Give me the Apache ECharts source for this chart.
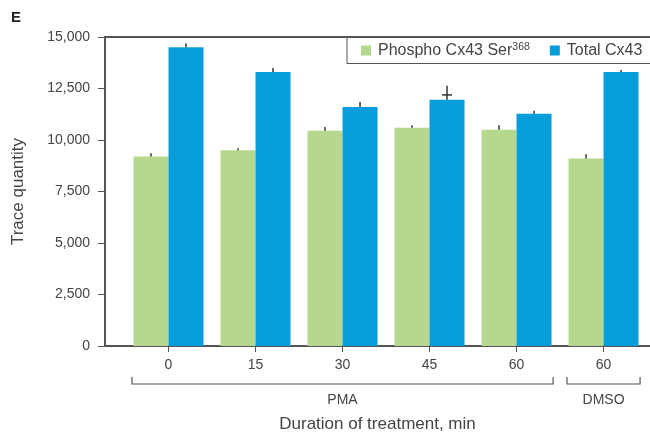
<!DOCTYPE html>
<html>
<head>
<meta charset="utf-8">
<script src="https://cdn.jsdelivr.net/npm/echarts@6/dist/echarts.min.js"></script>
<style>
  html, body { margin: 0; padding: 0; background: #fff; }
  #container { width: 650px; height: 438px; }
</style>
</head>
<body>
<div id="container"></div>
<script>
// data
var tickLabels = ['0', '15', '30', '45', '60', '60'];
var phospho = [9200, 9500, 10450, 10600, 10500, 9100];
var total = [14500, 13300, 11600, 11950, 11280, 13300];
var phosphoErr = [160, 100, 180, 110, 210, 210];
var totalErr = [190, 190, 240, 680, 145, 100];
var groups = [
    { name: 'PMA', from: 0, to: 4 },
    { name: 'DMSO', from: 5, to: 5 }
];
var seriesNames = ['Phospho Cx43 Ser368', 'Total Cx43'];

var textColor = '#444';
var axisColor = '#555';
var barW = 35;

function toPoints(arr) {
    return arr.map(function (v, i) { return [i, v]; });
}

function errPoints(vals, errs) {
    return vals.map(function (v, i) { return [i, v, v + errs[i]]; });
}

// error whiskers, shifted left/right onto their bar
function errRenderer(side) {
    return function (params, api) {
        var top = api.coord([api.value(0), api.value(1)]);
        var end = api.coord([api.value(0), api.value(2)]);
        var x = top[0] + side * barW / 2;
        var children = [{
            type: 'line',
            shape: { x1: x, y1: top[1], x2: x, y2: end[1] },
            style: { stroke: '#333', lineWidth: 1.5 }
        }];
        // the big whisker has a crossbar
        if (top[1] - end[1] > 8) {
            var cy = top[1] - (top[1] - end[1]) * 0.35;
            children.push({
                type: 'line',
                shape: { x1: x - 5, y1: cy, x2: x + 5, y2: cy },
                style: { stroke: '#333', lineWidth: 1.5 }
            });
        }
        return { type: 'group', children: children };
    };
}

var dom = document.getElementById('container');
var myChart = echarts.init(dom, null, { renderer: 'canvas' });

var option = {
    animation: false,
    color: ['#b5d88e', '#079ddb'],
    textStyle: { fontFamily: 'Liberation Sans, Arial, sans-serif' },
    title: {
        text: 'E',
        left: 6,
        top: 5,
        textStyle: { fontSize: 15, fontWeight: 'bold', color: '#222' }
    },
    legend: {
        data: seriesNames,
        orient: 'horizontal',
        left: 347,
        top: 37,
        width: 360,
        padding: [5, 40, 5, 14],
        itemWidth: 10,
        itemHeight: 10,
        itemGap: 20,
        icon: 'rect',
        borderColor: axisColor,
        borderWidth: 1,
        formatter: function (name) {
            return name.replace('Ser368', 'Ser{sup|368}');
        },
        textStyle: {
            fontSize: 16,
            color: textColor,
            padding: [0, 0, 0, 2],
            rich: {
                sup: { fontSize: 10.5, verticalAlign: 'top', color: textColor, padding: [0, 0, 6, 0] }
            }
        }
    },
    grid: { left: 105, right: 0, top: 37, bottom: 90 },
    xAxis: [
        {
            type: 'value',
            min: -0.73,
            max: 5.534,
            splitLine: { show: false },
            axisLine: { onZero: false, lineStyle: { color: axisColor, width: 2 } },
            axisTick: {
                customValues: [0, 1, 2, 3, 4, 5],
                length: 6,
                lineStyle: { color: axisColor, width: 1 }
            },
            axisLabel: {
                customValues: [0, 1, 2, 3, 4, 5],
                margin: 12,
                fontSize: 14,
                color: textColor,
                formatter: function (v) { return tickLabels[Math.round(v)]; }
            },
            name: 'Duration of treatment, min',
            nameLocation: 'middle',
            nameGap: 70,
            nameTextStyle: { fontSize: 17, color: textColor }
        },
        {
            type: 'value',
            position: 'top',
            min: 0,
            max: 1,
            axisLine: { show: true, onZero: false, lineStyle: { color: axisColor, width: 2 } },
            axisTick: { show: false },
            axisLabel: { show: false },
            splitLine: { show: false }
        }
    ],
    yAxis: {
        type: 'value',
        min: 0,
        max: 15000,
        interval: 2500,
        splitLine: { show: false },
        axisLine: { show: true, onZero: false, lineStyle: { color: axisColor, width: 2 } },
        axisTick: { show: true, length: 7, lineStyle: { color: axisColor, width: 1 } },
        axisLabel: {
            margin: 15,
            fontSize: 14,
            color: textColor,
            formatter: function (v) { return v.toLocaleString('en-US'); }
        },
        name: 'Trace quantity',
        nameLocation: 'middle',
        nameGap: 78,
        nameTextStyle: { fontSize: 17, color: textColor }
    },
    series: [
        {
            name: seriesNames[0],
            type: 'bar',
            barWidth: barW,
            barGap: '0%',
            data: toPoints(phospho)
        },
        {
            name: seriesNames[1],
            type: 'bar',
            barWidth: barW,
            barGap: '0%',
            data: toPoints(total)
        },
        {
            type: 'custom',
            renderItem: errRenderer(-1),
            data: errPoints(phospho, phosphoErr),
            z: 5,
            silent: true
        },
        {
            type: 'custom',
            renderItem: errRenderer(1),
            data: errPoints(total, totalErr),
            z: 5,
            silent: true
        }
    ]
};

myChart.setOption(option);

// group brackets under the tick labels
var bracketTop = 377;
var bracketLine = 384;
var graphics = [];
groups.forEach(function (g) {
    var x1 = myChart.convertToPixel({ xAxisIndex: 0 }, g.from - 0.42);
    var x2 = myChart.convertToPixel({ xAxisIndex: 0 }, g.to + 0.42);
    graphics.push({
        type: 'polyline',
        shape: { points: [[x1, bracketTop], [x1, bracketLine], [x2, bracketLine], [x2, bracketTop]] },
        style: { stroke: axisColor, lineWidth: 1.2, fill: null }
    });
    graphics.push({
        type: 'text',
        x: (x1 + x2) / 2,
        y: 400,
        style: {
            text: g.name,
            fontSize: 14,
            fontFamily: 'Liberation Sans, Arial, sans-serif',
            fill: textColor,
            align: 'center',
            verticalAlign: 'middle'
        }
    });
});
myChart.setOption({ graphic: graphics });

window.addEventListener('resize', myChart.resize);
</script>
</body>
</html>
